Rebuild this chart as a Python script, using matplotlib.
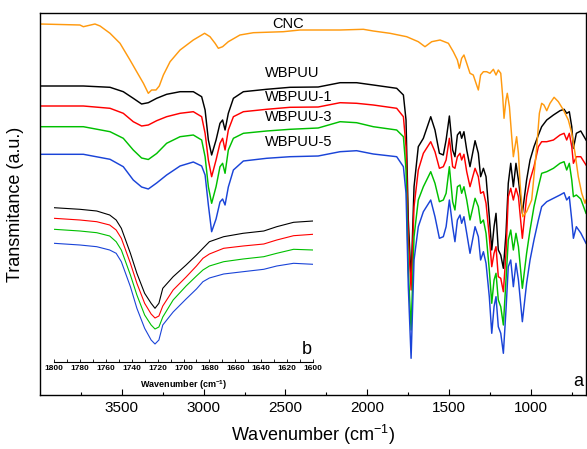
import matplotlib
matplotlib.use('Agg')
import matplotlib.pyplot as plt

plt.rcParams['font.family'] = ['Liberation Sans', 'DejaVu Sans']
plt.rcParams['mathtext.fontset'] = 'custom'
plt.rcParams['mathtext.rm'] = 'Liberation Sans'
plt.rcParams['mathtext.default'] = 'regular'

# ---------------- data (transmittance in arbitrary units, offset spectra) ----------------
series_names = ['WBPUU', 'WBPUU-1', 'WBPUU-3', 'WBPUU-5']

wn_pu = [4000, 3735, 3572, 3491, 3430, 3379, 3338, 3287, 3226, 3144,
         3063, 3012, 2991, 2971, 2951, 2924, 2900, 2884, 2869, 2849,
         2818, 2757, 2615, 2472, 2300, 2166, 2065, 1963, 1820, 1779,
         1763, 1749, 1732, 1714, 1688, 1657, 1612, 1586, 1559, 1535,
         1518, 1498, 1478, 1464, 1449, 1433, 1423, 1409, 1392, 1372,
         1341, 1321, 1307, 1290, 1274, 1254, 1239, 1225, 1213, 1199,
         1184, 1168, 1152, 1138, 1123, 1107, 1091, 1076, 1052, 1026,
         1005, 981, 954, 934, 903, 862, 822, 797, 781, 765,
         750, 740, 722, 695, 663]

t_wbpuu = [309, 309, 307.7, 303.3, 296.7, 291, 292.3, 296.7, 300.7, 303.3,
           303.3, 298.3, 285, 255, 240, 255, 271.7, 275, 265, 281.7,
           296.7, 303.3, 305.7, 307.7, 308, 312.3, 312.3, 310, 306.7, 300,
           275, 175, 115, 208.3, 248.3, 256.7, 278.3, 265, 241.7, 240,
           255, 279, 245, 238.3, 260, 263.3, 256.7, 263.3, 245, 228.3,
           254.3, 241.7, 218.3, 226.7, 218.3, 178.3, 145, 168.3, 181.7, 145,
           140, 126.7, 161.7, 211.7, 231.7, 208.3, 231.7, 215, 181.7, 215,
           235, 248.3, 260, 268.3, 275, 280, 284.3, 285.7, 281.7, 283.3,
           268.3, 246.7, 261.7, 264, 255]

t_wbpuu1 = [289, 289, 286.7, 281.7, 273.3, 269, 270, 274.3, 278.3, 281.7,
            283.3, 278.3, 261.7, 235, 218.3, 235, 251.7, 256.7, 245, 265,
            278.3, 283.3, 285.7, 287.7, 288, 292.3, 291.7, 290, 286.7, 278.3,
            248.3, 158.3, 105, 188.3, 225, 241.7, 253.3, 243.3, 226.7, 228.3,
            235, 256.7, 228.3, 226.7, 238.3, 241.7, 235, 240.7, 223.3, 208.3,
            226.7, 218.3, 201.7, 203.3, 191.7, 158.3, 128.3, 141.7, 148.3, 118.3,
            116.7, 103.3, 141.7, 198.3, 206.7, 195, 206.7, 198.3, 156.7, 198.3,
            215, 228.3, 248.3, 253.3, 253.3, 255, 260, 261.7, 255, 261.7,
            248.3, 231.7, 238.3, 238.3, 230]

t_wbpuu3 = [268.3, 268.3, 263.3, 256.7, 245, 237, 235.5, 241.5, 251.7, 258.3,
            260, 255, 238.3, 208.3, 191.7, 208.3, 228.3, 231.7, 221.7, 245,
            256.7, 261.7, 264, 265.7, 267, 273.3, 272.3, 268.3, 265, 258.3,
            225, 125, 65, 158.3, 195, 208.3, 223.3, 211.7, 193.3, 195,
            201.7, 228.3, 193.3, 185, 208.3, 210, 201.7, 208.3, 195, 175,
            196.7, 188.3, 171.7, 175, 161.7, 125, 91.7, 115, 121.7, 95,
            88.3, 70, 115, 155, 165, 145, 161.7, 148.3, 106.7, 141.7,
            165, 188.3, 208.3, 221.7, 223.3, 226.7, 231.7, 233.3, 225, 231.7,
            215, 198.3, 200, 196, 181.7]

t_wbpuu5 = [240.7, 240.7, 235.7, 228.3, 215, 208, 206, 212, 220, 229,
            233, 229, 220, 190, 163.3, 176, 193, 196, 190, 208,
            225, 234, 236.7, 238.3, 239, 243.3, 244.3, 241, 238.3, 228.3,
            201.7, 108.3, 36.7, 135, 168.3, 183.3, 195, 178.3, 156.7, 158.3,
            168.3, 195, 168.3, 153.3, 175, 180, 171.7, 178.3, 161.7, 141.7,
            168.3, 158.3, 135, 143.3, 131.7, 98.3, 61.7, 88.3, 98.3, 68.3,
            61.7, 41.7, 85, 128.3, 135, 108.3, 131.7, 115, 73.3, 111.7,
            135, 155, 175, 188.3, 193.3, 196.7, 200, 202.3, 195, 198.3,
            175, 156.7, 168.3, 162, 151.7]

wn_cnc = [4000, 3756, 3735, 3664, 3633, 3572, 3511, 3450, 3409, 3368,
          3338, 3318, 3291, 3271, 3246, 3205, 3144, 3063, 2994, 2961,
          2930, 2910, 2884, 2849, 2778, 2696, 2513, 2411, 2166, 2024,
          1963, 1861, 1759, 1688, 1647, 1606, 1555, 1504, 1474, 1449,
          1437, 1423, 1409, 1392, 1372, 1352, 1335, 1321, 1307, 1290,
          1270, 1250, 1229, 1213, 1199, 1184, 1172, 1164, 1152, 1144,
          1131, 1117, 1107, 1097, 1087, 1076, 1066, 1050, 1026, 995,
          964, 948, 934, 920, 903, 883, 858, 832, 801, 771,
          750, 730, 710, 689, 669, 663]

t_cnc = [371, 370, 368.3, 371, 369, 361.7, 351.7, 335, 323.3, 311.7,
         301.7, 305, 305, 309, 320, 333.3, 345, 355, 361.7, 358.3,
         351.7, 346.7, 348.3, 353.3, 360, 362.3, 363.3, 365, 365, 365.7,
         364, 361.7, 358.3, 353.3, 348.3, 353.3, 355, 351.7, 343.3, 335,
         326.7, 336.7, 340, 331.7, 321.7, 320, 311.7, 305, 320, 323.3,
         323.3, 321.7, 325.7, 320, 325, 321.7, 298.3, 276.7, 295, 301.7,
         288.3, 258.3, 238.3, 248.3, 258.3, 241.7, 211.7, 178.3, 183.3, 195,
         248.3, 281.7, 291.7, 290, 284.3, 291.7, 297.7, 293.3, 285, 275,
         261.7, 241.7, 218.3, 201.7, 191.7, 195]

# inset (b): carbonyl region
wn_inset = [1800, 1780, 1767, 1757, 1752, 1748, 1741, 1736, 1730, 1725,
            1722, 1719, 1716, 1708, 1698, 1690, 1685, 1680, 1669, 1654,
            1638, 1628, 1615, 1600]
tb_wbpuu = [154.3, 152.7, 151, 147, 142, 133.7, 108.7, 88.7, 68.7, 58.7,
            53.7, 58.7, 73.7, 85.3, 97, 107, 113.7, 120.3, 125.3, 128.7,
            131, 135.3, 139.7, 141]
tb_wbpuu1 = [143.7, 142, 140.3, 137, 132, 123.7, 98.7, 78.7, 58.7, 48,
             44, 46, 56, 72, 85, 96, 103.7, 108, 113.7, 116,
             118, 122, 126.3, 127.7]
tb_wbpuu3 = [132.7, 131, 129.3, 126, 120.3, 112, 87, 67, 47, 37,
             33, 35, 45, 62, 76, 86, 92, 96, 100.3, 103,
             105.3, 108.7, 112.7, 112]
tb_wbpuu5 = [118.7, 117, 115.3, 112, 108.7, 100.3, 75.3, 53.7, 33.7, 22,
             18, 22, 37, 50, 63, 73, 80.3, 84, 88, 90.3,
             92.7, 96, 98.7, 97.7]

main_ticks = [3500, 3000, 2500, 2000, 1500, 1000]
main_minor = [3750, 3250, 2750, 2250, 1750, 1250, 750]
inset_ticks = list(range(1800, 1599, -20))
inset_minor = list(range(1790, 1600, -20))

# ---------------- styling ----------------
colors = ['#000000', '#ff0000', '#00c000', '#1a44d8']
cnc_color = '#ff9a0f'

W, H = 587, 449
fig = plt.figure(figsize=(W / 100, H / 100), dpi=100)
ax = fig.add_axes([40 / W, 1 - 395 / H, 546 / W, 382 / H])

pu_values = [t_wbpuu, t_wbpuu1, t_wbpuu3, t_wbpuu5]
for vals, col in zip(pu_values, colors):
    ax.plot(wn_pu, vals, color=col, lw=1.05)
ax.plot(wn_cnc, t_cnc, color=cnc_color, lw=1.05)

ax.set_xlim(4000, 663)
ax.set_ylim(0, 382)
ax.set_xticks(main_ticks)
ax.set_xticks(main_minor, minor=True)
ax.set_yticks([])
ax.tick_params(axis='x', which='major', direction='in', length=4.5, width=0.8,
               labelsize=11, pad=4)
ax.tick_params(axis='x', which='minor', direction='in', length=2.5, width=0.8)
for s in ax.spines.values():
    s.set_linewidth(1.0)

ax.set_xlabel('Wavenumber (cm$^{-1}$)', fontsize=13)
ax.xaxis.set_label_coords(0.5, (395 - 435) / 382)
ax.xaxis.label.set_verticalalignment('center')
ax.set_ylabel('Transmitance (a.u.)', fontsize=13)
ax.yaxis.set_label_coords((16 - 40) / 546, 0.5)
ax.yaxis.label.set_verticalalignment('center')

ax.text(2582, 371, 'CNC', fontsize=10.5, ha='left', va='center')
label_y = [322, 298, 278, 253]
for name, yy in zip(series_names, label_y):
    ax.text(2625, yy, name, fontsize=10.5, ha='left', va='center')
ax.text((578 - 40) / 546, (395 - 381) / 382, 'a', transform=ax.transAxes,
        fontsize=13, ha='center', va='center')

# ---------------- inset ----------------
axin = fig.add_axes([54 / W, 1 - 362 / H, 259 / W, 162 / H])
axin.patch.set_alpha(0)
inset_values = [tb_wbpuu, tb_wbpuu1, tb_wbpuu3, tb_wbpuu5]
for vals, col in zip(inset_values, colors):
    axin.plot(wn_inset, vals, color=col, lw=0.8)
axin.set_xlim(1800, 1600)
axin.set_ylim(0, 162)
for side in ['left', 'top', 'right']:
    axin.spines[side].set_visible(False)
axin.spines['bottom'].set_linewidth(0.8)
axin.set_yticks([])
axin.set_xticks(inset_ticks)
axin.set_xticks(inset_minor, minor=True)
axin.tick_params(axis='x', which='major', direction='in', length=2.5, width=0.6,
                 labelsize=6, pad=2.5)
axin.tick_params(axis='x', which='minor', direction='in', length=2.0, width=0.6)
for t in axin.get_xticklabels():
    t.set_fontweight('bold')
axin.set_xlabel('Wavenumber (cm$^{-1}$)', fontsize=6.5, fontweight='bold')
axin.xaxis.set_label_coords(0.5, (362 - 385) / 162)
axin.xaxis.label.set_verticalalignment('center')
axin.text((307 - 54) / 259, (362 - 350) / 162, 'b', transform=axin.transAxes,
          fontsize=13, ha='center', va='center')

fig.savefig('out.png', dpi=100)
